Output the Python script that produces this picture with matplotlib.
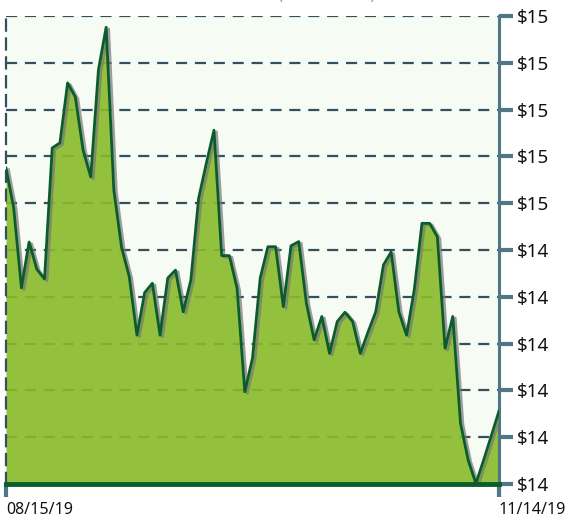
import numpy as np
import matplotlib.pyplot as plt
import matplotlib.patheffects as pe

# --- data (65 trading days) ---
prices = [
    14.675, 14.590, 14.419, 14.517, 14.459, 14.438, 14.718, 14.729, 14.857, 14.827,
    14.714, 14.656, 14.885, 14.976, 14.628, 14.506, 14.443, 14.318, 14.409, 14.429,
    14.318, 14.440, 14.457, 14.368, 14.436, 14.610, 14.685, 14.756, 14.488, 14.488,
    14.418, 14.197, 14.269, 14.440, 14.507, 14.507, 14.379, 14.509, 14.518, 14.386,
    14.308, 14.358, 14.279, 14.347, 14.367, 14.347, 14.279, 14.325, 14.368, 14.468,
    14.496, 14.368, 14.318, 14.415, 14.557, 14.557, 14.528, 14.290, 14.358, 14.130,
    14.051, 14.001, 14.051, 14.103, 14.156,
]
date_labels = ['08/15/19', '11/14/19']
y_ticks = [14.0, 14.1, 14.2, 14.3, 14.4, 14.5, 14.6, 14.7, 14.8, 14.9, 15.0]
y_tick_labels = ['$14'] * 6 + ['$15'] * 5
title = '(Last 3 Months)'

plt.rcParams['font.family'] = ['Noto Sans', 'DejaVu Sans']

x = np.arange(len(prices))

fig = plt.figure(figsize=(5.72, 5.18), dpi=100)
ax = fig.add_axes([6 / 572, 34 / 518, 493 / 572, 468 / 518])
ax.set_facecolor('#f6fbf4')

grid_col = '#34505e'
axis_col = '#4f7787'

ax.set_xlim(0, len(prices) - 1)
ax.set_ylim(y_ticks[0], y_ticks[-1])

# dashed horizontal grid
for v in y_ticks:
    ax.axhline(v, color=grid_col, lw=1.6, ls=(0, (5, 3.5)), zorder=1)

ax.fill_between(x, prices, y_ticks[0], color='#8abb29', alpha=0.9, lw=0, zorder=2)
ax.plot(x, prices, color='#0b5c2c', lw=2.0, zorder=3,
        path_effects=[pe.SimpleLineShadow(offset=(1.8, -1.2), shadow_color='#777777', alpha=0.7),
                      pe.Normal()])

# spines
ax.spines['top'].set_visible(False)
ax.spines['left'].set_color(grid_col)
ax.spines['left'].set_linewidth(1.6)
ax.spines['left'].set_linestyle((0, (5, 3.5)))
ax.spines['right'].set_color(axis_col)
ax.spines['right'].set_linewidth(2.2)
ax.spines['bottom'].set_color('#0b5c2c')
ax.spines['bottom'].set_linewidth(3.5)
ax.spines['bottom'].set_zorder(4)

ax.yaxis.tick_right()
ax.set_yticks(y_ticks, y_tick_labels)
ax.tick_params(axis='y', which='both', left=False, right=True, length=10, width=3,
               color=axis_col, pad=3, labelsize=13.5, labelcolor='#111111')

ax.set_xticks([0, len(prices) - 1], date_labels)
ax.tick_params(axis='x', length=9, width=3, color=axis_col, pad=4,
               labelsize=11.5, labelcolor='#111111')
for lab in ax.get_xticklabels():
    lab.set_horizontalalignment('left')

# title sits mostly above the canvas, only the parentheses peek in
fig.text(0.571, 1.0, title, ha='center', va='baseline', fontsize=9.5, color='#888888')

fig.savefig('out.png', dpi=100)
